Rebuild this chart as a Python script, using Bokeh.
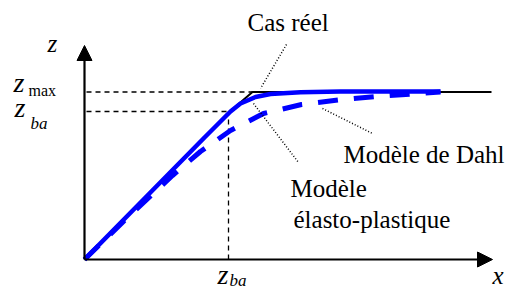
from bokeh.plotting import figure
from bokeh.models import Range1d, Arrow, NormalHead
from bokeh.core.properties import value
from bokeh.embed import file_html
from bokeh.resources import INLINE

# Diagram data (x: displacement, z: internal state), units of the sketch
real_x = [0, 143, 168, 407]
real_z = [0, 146, 167.5, 167.5]

dahl_x = [0, 60, 120, 146, 156, 171, 186, 216, 256, 356]
dahl_z = [0, 61, 122, 148, 156, 162.5, 165.5, 167.3, 168, 168]

elasto_x = [0, 40, 88, 116, 146, 179, 217, 254, 291, 328, 356]
elasto_z = [0, 39, 84, 108, 129, 146, 155, 159.5, 163, 165.5, 167.5]

z_max = 167.5
z_ba = 148
x_ba = 144
x_axis_end = 408
z_axis_end = 214

# annotations
labels = ["Cas réel", "Modèle de Dahl", "Modèle", "élasto-plastique"]
label_x = [163, 259, 206, 209]
label_z = [237, 105, 71, 40]

leader_x0 = [202, 238, 169]
leader_z0 = [215, 151, 156]
leader_x1 = [176, 288, 214]
leader_z1 = [171, 126, 97]

p = figure(width=515, height=290, output_backend="svg", toolbar_location=None,
           x_range=Range1d(-84, 431), y_range=Range1d(-31, 259), min_border=0)
p.axis.visible = False
p.grid.visible = False
p.outline_line_color = None
p.background_fill_color = "white"

# guide dashed lines
p.line([2, 168], [z_max, z_max], line_color="black", line_width=1.3, line_dash="5 4")
p.line([2, x_ba], [z_ba, z_ba], line_color="black", line_width=1.3, line_dash="5 4")
p.line([x_ba, x_ba], [0, z_ba], line_color="black", line_width=1.3, line_dash="5 4")

# axes with arrows
p.add_layout(Arrow(end=NormalHead(size=15, fill_color="black", line_color="black"),
                   x_start=0, y_start=0, x_end=0, y_end=z_axis_end,
                   line_width=2.2, line_color="black"))
p.add_layout(Arrow(end=NormalHead(size=15, fill_color="black", line_color="black"),
                   x_start=0, y_start=0, x_end=x_axis_end, y_end=0,
                   line_width=2.2, line_color="black"))

# curves
p.line(real_x, real_z, line_color="black", line_width=2)
p.line(elasto_x, elasto_z, line_color="#0000FF", line_width=5, line_dash="20 16")
p.line(dahl_x, dahl_z, line_color="#0000FF", line_width=4.5)

# leaders
for x0, z0, x1, z1 in zip(leader_x0, leader_z0, leader_x1, leader_z1):
    p.line([x0, x1], [z0, z1], line_color="black", line_width=1.5, line_dash="1 2")

font = value("'Liberation Serif', 'Times New Roman', serif")
p.text(x=label_x, y=label_z, text=labels, text_font=font, text_font_size="25px",
       text_color="black", text_baseline="alphabetic", text_align="left")

# axis symbols
p.text(x=[-37, 408], y=[216, -16], text=["z", "x"], text_font=font,
       text_font_style="italic", text_font_size="25px",
       text_baseline="alphabetic", text_align="left")
p.text(x=[-71, -70, 133], y=[177, 152, -15], text=["z", "z", "z"], text_font=font,
       text_font_style="italic", text_font_size="28px",
       text_baseline="alphabetic", text_align="left")
p.text(x=[-56], y=[169], text=["max"], text_font=font, text_font_size="16px",
       text_baseline="alphabetic", text_align="left")
p.text(x=[-54, 145], y=[136, -21], text=["ba", "ba"], text_font=font,
       text_font_style="italic", text_font_size="17px",
       text_baseline="alphabetic", text_align="left")

open("out.html", "w").write(file_html(p, INLINE))
